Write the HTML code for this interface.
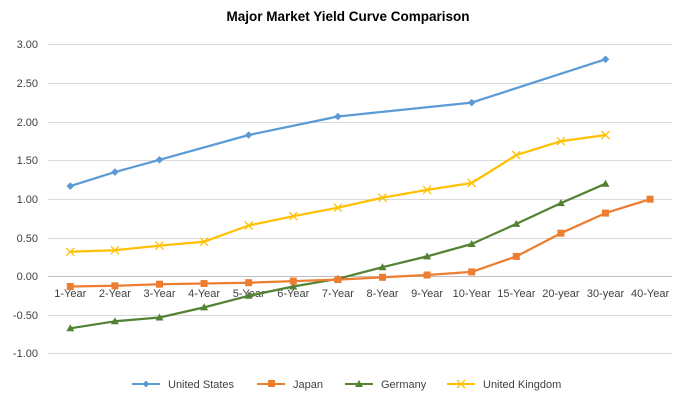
<!DOCTYPE html>
<html><head><meta charset="utf-8"><style>
html,body{margin:0;padding:0;background:#fff;}
svg{display:block;font-family:"Liberation Sans",Calibri,sans-serif;}
</style></head><body>
<svg width="697" height="402" viewBox="0 0 697 402" xmlns="http://www.w3.org/2000/svg">
<defs>
<marker id="mtri" markerUnits="userSpaceOnUse" markerWidth="10" markerHeight="10" refX="5" refY="5"><path d="M5 1l4 7h-8z" fill="#548235"/></marker>
<marker id="msq" markerUnits="userSpaceOnUse" markerWidth="10" markerHeight="10" refX="5" refY="5"><rect x="1.5" y="1.5" width="7" height="7" fill="#ED7D31"/></marker>
<marker id="mx" markerUnits="userSpaceOnUse" markerWidth="10" markerHeight="10" refX="5" refY="5"><path d="M1 1l8 8M9 1l-8 8" stroke="#FFC000" stroke-width="1.3"/></marker>
<marker id="mdia" markerUnits="userSpaceOnUse" markerWidth="10" markerHeight="10" refX="5" refY="5"><path d="M5 1.2l3.8 3.8-3.8 3.8-3.8-3.8z" fill="#5B9BD5"/></marker>
</defs>
<rect width="697" height="402" fill="#fff"/>
<text x="348" y="21" text-anchor="middle" font-size="13.5" font-weight="bold" fill="#000">Major Market Yield Curve Comparison</text>
<g stroke="#d9d9d9" stroke-width="1">
<line x1="48" x2="672" y1="44.5" y2="44.5"/>
<line x1="48" x2="672" y1="83.5" y2="83.5"/>
<line x1="48" x2="672" y1="122.5" y2="122.5"/>
<line x1="48" x2="672" y1="160.5" y2="160.5"/>
<line x1="48" x2="672" y1="199.5" y2="199.5"/>
<line x1="48" x2="672" y1="238.5" y2="238.5"/>
<line x1="48" x2="672" y1="315.5" y2="315.5"/>
<line x1="48" x2="672" y1="353.5" y2="353.5"/>
</g>
<line x1="48" x2="672" y1="276.5" y2="276.5" stroke="#bfbfbf"/>
<g font-size="11" fill="#404040" text-anchor="end">
<text x="38" y="48">3.00</text><text x="38" y="87">2.50</text><text x="38" y="126">2.00</text>
<text x="38" y="164">1.50</text><text x="38" y="203">1.00</text><text x="38" y="242">0.50</text>
<text x="38" y="280">0.00</text><text x="38" y="319">-0.50</text><text x="38" y="357">-1.00</text>
</g>
<g font-size="11" fill="#404040" text-anchor="middle">
<text x="70.3" y="297">1-Year</text><text x="114.9" y="297">2-Year</text><text x="159.5" y="297">3-Year</text>
<text x="204.1" y="297">4-Year</text><text x="248.7" y="297">5-Year</text><text x="293.3" y="297">6-Year</text>
<text x="337.9" y="297">7-Year</text><text x="382.5" y="297">8-Year</text><text x="427.1" y="297">9-Year</text>
<text x="471.7" y="297">10-Year</text><text x="516.3" y="297">15-Year</text><text x="560.9" y="297">20-year</text>
<text x="605.5" y="297">30-year</text><text x="650.1" y="297">40-Year</text>
</g>
<g fill="none" stroke-width="2.25" stroke-linejoin="round">
<polyline stroke="#548235" marker-start="url(#mtri)" marker-mid="url(#mtri)" marker-end="url(#mtri)" points="70.3,328.3 114.9,321.3 159.5,317.5 204.1,307.4 248.7,295.8 293.3,286.5 337.9,278.8 382.5,267.2 427.1,256.4 471.7,244.0 516.3,223.9 560.9,203.1 605.5,183.7"/>
<polyline stroke="#ED7D31" marker-start="url(#msq)" marker-mid="url(#msq)" marker-end="url(#msq)" points="70.3,286.5 114.9,285.8 159.5,284.2 204.1,283.5 248.7,282.7 293.3,281.1 337.9,279.6 382.5,277.3 427.1,275.0 471.7,271.9 516.3,256.4 560.9,233.2 605.5,213.1 650.1,199.2"/>
<polyline stroke="#FFC000" marker-start="url(#mx)" marker-mid="url(#mx)" marker-end="url(#mx)" points="70.3,251.8 114.9,250.2 159.5,245.6 204.1,241.7 248.7,225.5 293.3,216.2 337.9,207.7 382.5,197.7 427.1,189.9 471.7,183.0 516.3,155.1 560.9,141.2 605.5,135.0"/>
<polyline stroke="#5B9BD5" marker-start="url(#mdia)" marker-mid="url(#mdia)" marker-end="url(#mdia)" points="70.3,186.1 114.9,172.1 159.5,159.8 248.7,135.0 337.9,116.5 471.7,102.6 605.5,59.3"/>
</g>
<g font-size="11" fill="#404040">
<line x1="132" x2="160" y1="384" y2="384" stroke="#5B9BD5" stroke-width="2"/><path d="M146 380.5l3.5 3.5-3.5 3.5-3.5-3.5z" fill="#5B9BD5"/>
<text x="168" y="388">United States</text>
<line x1="257" x2="285" y1="384" y2="384" stroke="#ED7D31" stroke-width="2"/><rect x="268" y="380" width="7" height="7" fill="#ED7D31"/>
<text x="293" y="388">Japan</text>
<line x1="345" x2="373" y1="384" y2="384" stroke="#548235" stroke-width="2"/><path d="M359 380l4 7h-8z" fill="#548235"/>
<text x="381" y="388">Germany</text>
<line x1="447" x2="475" y1="384" y2="384" stroke="#FFC000" stroke-width="2"/><path d="M457 380l8 8M465 380l-8 8" stroke="#FFC000" stroke-width="1.3"/>
<text x="483" y="388">United Kingdom</text>
</g>
</svg>
</body></html>
